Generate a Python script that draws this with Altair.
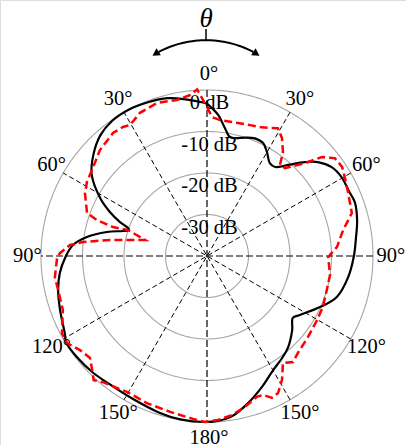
import numpy as np
import pandas as pd
import altair as alt

# Radiation pattern: angle in degrees (clockwise from boresight), gain in dB
solid_angle = [0.0, 4.5, 8.0, 10.9, 13.3, 18.0, 22.1, 26.4, 30.0, 34.1, 37.4, 41.7,
               46.2, 49.7, 54.5, 59.7, 65.6, 70.0, 76.5, 83.5, 90.0, 98.5, 107.5,
               114.3, 122.4, 125.8, 131.0, 138.3, 143.0, 150.7, 157.2, 164.4, 171.2,
               176.2, 180.7, 189.3, 196.7, 207.5, 217.4, 224.3, 232.2, 238.5, 241.5,
               250.0, 257.1, 263.4, 269.6, 274.7, 279.0, 283.5, 286.6, 288.4, 289.5,
               291.3, 294.4, 298.1, 305.2, 311.5, 318.5, 325.0, 332.0, 339.0, 346.0,
               352.8, 358.5, 360.0]
solid_db = [-3.3, -5.9, -8.9, -10.8, -10.8, -10.0, -9.4, -9.6, -11.1, -13.0, -13.0, -10.6,
            -7.3, -5.0, -3.1, -2.4, -2.4, -2.1, -2.8, -3.9, -4.6, -5.6, -7.2,
            -10.1, -13.5, -14.5, -12.8, -10.6, -9.6, -8.0, -5.8, -3.2, -0.9,
            -0.2, 0.0, -0.1, -0.5, -1.2, -1.2, -0.7, -0.3, -0.2, -1.0,
            -2.3, -3.2, -4.3, -5.9, -7.6, -10.7, -15.2, -18.9, -20.2, -19.8,
            -17.5, -14.3, -11.0, -6.0, -3.4, -1.2, -0.2, 0.0, -0.3, -0.8,
            -2.0, -3.0, -3.3]

dashed_angle = [0.0, 2.1, 5.5, 13.1, 18.2, 23.1, 29.0, 32.4, 36.2, 38.7, 41.6, 46.5,
                49.3, 52.6, 56.6, 60.5, 65.6, 73.5, 79.2, 86.0, 90.5, 98.8, 105.8,
                113.7, 120.2, 128.7, 136.8, 140.9, 144.6, 148.8, 152.6, 155.4, 158.0,
                160.5, 165.9, 171.1, 176.2, 180.7, 184.9, 193.3, 202.2, 210.5, 219.5,
                222.4, 225.2, 228.9, 233.5, 238.1, 242.0, 249.4, 257.1, 262.1, 269.6,
                271.2, 274.6, 276.4, 279.4, 284.5, 288.2, 287.1, 288.1, 289.7, 297.3,
                301.7, 306.8, 314.7, 322.6, 326.9, 329.6, 334.9, 341.9, 349.1, 354.0,
                356.6, 360.0]
dashed_db = [-4.1, -6.5, -7.1, -7.1, -6.8, -6.3, -4.8, -6.3, -9.0, -11.9, -11.7, -7.5,
             -3.4, -1.2, -1.0, -1.8, -2.7, -3.6, -6.6, -8.6, -10.8, -10.0, -10.0,
             -9.5, -9.3, -8.8, -8.0, -7.1, -8.4, -5.1, -2.8, -2.4, -3.9,
             -4.0, -2.5, -1.2, -0.4, 0.0, -0.6, -1.4, -1.7, -2.0, -0.6,
             0.5, -1.0, -2.6, -1.9, -0.3, -0.4, -2.9, -3.2, -3.0, -3.9,
             -4.6, -6.9, -9.9, -16.3, -24.6, -20.0, -16.3, -12.1, -9.3, -6.9,
             -6.0, -5.4, -3.7, -2.7, -2.9, -3.4, -1.9, -1.2, -1.7, -1.0,
             0.2, -4.1]

ring_db = [0, -10, -20, -30]
ring_labels = ["0 dB", "-10 dB", "-20 dB", "-30 dB"]
spoke_angles = [0, 30, 60, 90, 120, 150]
tick_angles = [0, 30, 60, 90, 120, 150, 180, 210, 240, 270, 300, 330]
tick_labels = ["0°", "30°", "60°", "90°", "120°", "150°", "180°",
               "150°", "120°", "90°", "60°", "30°"]

FLOOR = -40.0          # gain at the centre of the plot
PX = 4.15              # pixels per dB
W, H = 406, 445
CX, CY = 207, 256      # pixel position of the pole
LABEL_R = 43.8         # radius of the angle labels (dB units above floor)
FONT = "Liberation Serif"


def to_xy(angle_deg, db):
    a = np.radians(np.asarray(angle_deg, dtype=float))
    r = np.asarray(db, dtype=float) - FLOOR
    return r * np.sin(a), r * np.cos(a)


xs = alt.Scale(domain=[-CX / PX, (W - CX) / PX], nice=False, zero=False)
ys = alt.Scale(domain=[-(H - CY) / PX, CY / PX], nice=False, zero=False)
X = lambda f: alt.X(f, type="quantitative", scale=xs, axis=None)
Y = lambda f: alt.Y(f, type="quantitative", scale=ys, axis=None)

# grid rings
t = np.linspace(0, 360, 361)
ring_rows = []
for lvl in ring_db:
    gx, gy = to_xy(t, np.full_like(t, lvl))
    for i, (a, b) in enumerate(zip(gx, gy)):
        ring_rows.append({"ring": lvl, "i": i, "x": a, "y": b})
rings = alt.Chart(pd.DataFrame(ring_rows)).mark_line(
    color="#a6a6a6", strokeWidth=1.1
).encode(x=X("x"), y=Y("y"), detail="ring:N", order="i:Q")

# spokes through the pole
sp = []
for a in spoke_angles:
    x1, y1 = to_xy([a], [0])
    x2, y2 = to_xy([a + 180], [0])
    sp.append({"x": x1[0], "y": y1[0], "x2": x2[0], "y2": y2[0],
               "main": a in (0, 90)})
sp = pd.DataFrame(sp)
main_spokes = alt.Chart(sp[sp.main]).mark_rule(
    color="black", strokeWidth=1.2, strokeDash=[7, 3]
).encode(x=X("x"), y=Y("y"), x2="x2", y2="y2")
diag_spokes = alt.Chart(sp[~sp.main]).mark_rule(
    color="black", strokeWidth=1.0, strokeDash=[5, 3]
).encode(x=X("x"), y=Y("y"), x2="x2", y2="y2")

# dB level labels along the vertical axis
lx = np.full(len(ring_db), 0.6)
ly = np.array(ring_db, dtype=float) - FLOOR - 3.2
db_text = alt.Chart(pd.DataFrame({"x": lx, "y": ly, "t": ring_labels})).mark_text(
    font=FONT, fontSize=20.5, color="black", align="center", baseline="middle"
).encode(x=X("x"), y=Y("y"), text="t:N")

# angle labels around the rim
ax_, ay_ = to_xy(tick_angles, np.full(len(tick_angles), LABEL_R + FLOOR))
ang_text = alt.Chart(pd.DataFrame({"x": ax_, "y": ay_, "t": tick_labels})).mark_text(
    font=FONT, fontSize=20.5, color="black", align="center", baseline="middle", dx=2
).encode(x=X("x"), y=Y("y"), text="t:N")

# measured patterns
sx, sy = to_xy(solid_angle, solid_db)
solid = alt.Chart(pd.DataFrame({"x": sx, "y": sy, "i": range(len(sx))})).mark_line(
    color="black", strokeWidth=2.2, interpolate="catmull-rom"
).encode(x=X("x"), y=Y("y"), order="i:Q")

dx_, dy_ = to_xy(dashed_angle, dashed_db)
dashed = alt.Chart(pd.DataFrame({"x": dx_, "y": dy_, "i": range(len(dx_))})).mark_line(
    color="#ff0000", strokeWidth=2.5, strokeDash=[8, 4]
).encode(x=X("x"), y=Y("y"), order="i:Q")

# theta indicator: curved double arrow above the plot
ARC_CX, ARC_CY, ARC_R = -0.24, 27.7, 24.3
arc_t = np.radians(np.linspace(-28, 28, 57))
arc = pd.DataFrame({"x": ARC_CX + ARC_R * np.sin(arc_t),
                    "y": ARC_CY + ARC_R * np.cos(arc_t),
                    "i": range(len(arc_t))})
arc_line = alt.Chart(arc).mark_line(color="black", strokeWidth=2).encode(
    x=X("x"), y=Y("y"), order="i:Q")
head_a = np.radians([-30.0, 30.0])
heads = pd.DataFrame({"x": ARC_CX + ARC_R * np.sin(head_a),
                      "y": ARC_CY + ARC_R * np.cos(head_a),
                      "shape": ["triangle-left", "triangle-right"],
                      "rot": [328, 32]})
arrow_heads = alt.Chart(heads).mark_point(
    filled=True, color="black", size=70, opacity=1
).encode(x=X("x"), y=Y("y"), shape=alt.Shape("shape:N", scale=None, legend=None),
         angle=alt.Angle("rot:Q", scale=None))
stem = alt.Chart(pd.DataFrame({"x": [ARC_CX], "y": [ARC_CY + ARC_R],
                               "y2": [ARC_CY + ARC_R + 2.7]})).mark_rule(
    color="black", strokeWidth=1.5
).encode(x=X("x"), y=Y("y"), y2="y2")
theta = alt.Chart(pd.DataFrame({"x": [ARC_CX], "y": [ARC_CY + ARC_R + 5.0],
                                "t": ["θ"]})).mark_text(
    font=FONT, fontSize=27, fontStyle="italic", color="black",
    align="center", baseline="middle"
).encode(x=X("x"), y=Y("y"), text="t:N")

chart = alt.layer(
    rings, diag_spokes, main_spokes, db_text, ang_text, solid, dashed,
    arc_line, arrow_heads, stem, theta
).properties(
    width=W, height=H, padding=0, autosize=alt.AutoSizeParams(type="none")
).configure_view(stroke=None).configure(background="white")

chart.save("out.html", embed_options={"renderer": "svg", "actions": False})
